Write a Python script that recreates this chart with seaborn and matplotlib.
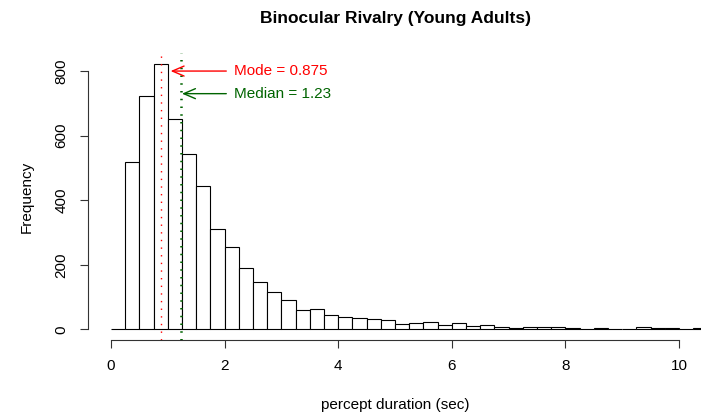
import numpy as np
import matplotlib
matplotlib.use("Agg")
import matplotlib.pyplot as plt
import seaborn as sns

# ---- data ----
bin_width = 0.25
bin_starts = [i * 0.25 for i in range(42)]  # 0.00 .. 10.25
counts = [0, 517, 724, 823, 650, 543, 445, 312, 256, 191,
          148, 115, 92, 59, 63, 44, 37, 35, 32, 29,
          18, 19, 23, 15, 19, 10, 12, 7, 4, 6,
          7, 7, 4, 2, 4, 2, 0, 7, 3, 3,
          1, 4]
mode_value = 0.875
median_value = 1.23
x_ticks = [0, 2, 4, 6, 8, 10]
y_ticks = [0, 200, 400, 600, 800]
title = "Binocular Rivalry (Young Adults)"
xlabel = "percept duration (sec)"
ylabel = "Frequency"

plt.rcParams['font.family'] = ['Liberation Sans', 'DejaVu Sans']

W, H = 701, 416
fig = plt.figure(figsize=(W / 100, H / 100), dpi=100)
# plot region in pixels: x 88..709, y 53..340
ax = fig.add_axes([88 / W, (H - 340) / H, (709 - 88) / W, (340 - 53) / H])

centers = [s + bin_width / 2 for s in bin_starts]
edges = list(bin_starts) + [bin_starts[-1] + bin_width]
sns.histplot(x=centers, weights=counts, bins=edges, ax=ax,
             color="white", edgecolor="black", linewidth=0.8, alpha=1)

ymax = max(counts)
ax.set_ylim(-0.04 * ymax, ymax * 1.04)
xr = 10.125
ax.set_xlim(-0.04 * xr, xr * 1.04)

ax.axvline(mode_value, color="red", lw=1.0, ls=(0, (1, 4.5)))
ax.axvline(median_value, color="#006400", lw=1.8, ls=(0, (0.6, 2.5)))

ax.annotate("", xy=(1.05, 800), xytext=(2.03, 800),
            arrowprops=dict(arrowstyle="->,head_length=0.7,head_width=0.3",
                            color="red", lw=1, mutation_scale=12,
                            shrinkA=0, shrinkB=0))
ax.text(2.17, 800, f"Mode = {mode_value}", color="red", fontsize=11,
        ha="left", va="center")
ax.annotate("", xy=(1.25, 730), xytext=(2.03, 730),
            arrowprops=dict(arrowstyle="->,head_length=0.7,head_width=0.3",
                            color="#006400", lw=1, mutation_scale=12,
                            shrinkA=0, shrinkB=0))
ax.text(2.17, 730, f"Median = {median_value}", color="#006400", fontsize=11,
        ha="left", va="center")

# R-style axes
for s in ["top", "right"]:
    ax.spines[s].set_visible(False)
ax.spines["left"].set_bounds(y_ticks[0], y_ticks[-1])
ax.spines["bottom"].set_bounds(x_ticks[0], x_ticks[-1])
for s in ["left", "bottom"]:
    ax.spines[s].set_linewidth(0.8)
    ax.spines[s].set_color("#333333")
ax.set_xticks(x_ticks)
ax.set_yticks(y_ticks)
ax.set_xticklabels([str(t) for t in x_ticks])
ax.set_yticklabels([str(t) for t in y_ticks], rotation=90, va="center")
ax.tick_params(axis="both", length=6, width=0.8, color="#333333",
               labelsize=11, pad=8)
ax.grid(False)
ax.set_facecolor("white")

ax.set_xlabel(xlabel, fontsize=11)
ax.set_ylabel(ylabel, fontsize=11)
ax.xaxis.set_label_coords((395 - 88) / (709 - 88), (340 - 405) / (340 - 53))
ax.xaxis.label.set_verticalalignment("center")
ax.yaxis.set_label_coords((27 - 88) / (709 - 88), 0.5)
ax.yaxis.label.set_verticalalignment("center")

fig.text(396 / W, 1 - 18 / H, title, fontsize=12.5, fontweight="bold",
         ha="center", va="center")

fig.savefig("out.png", dpi=100, facecolor="white")
